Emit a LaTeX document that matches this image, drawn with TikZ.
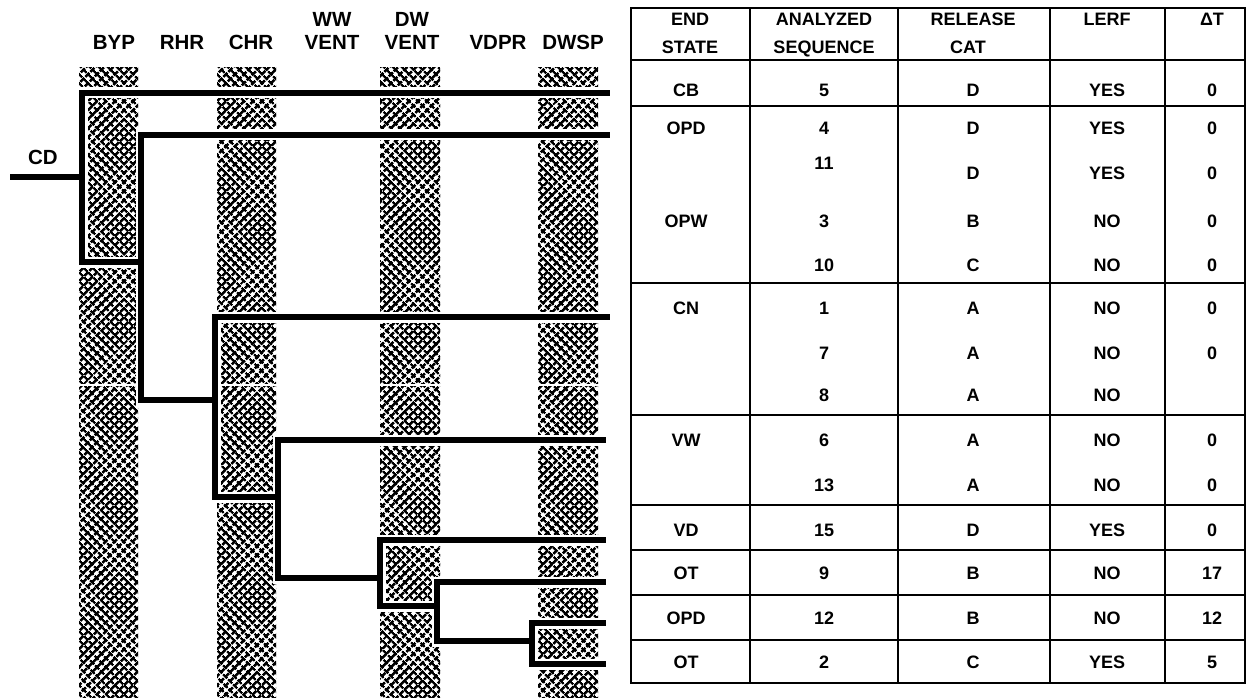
\documentclass[tikz,border=0pt]{standalone}
\usepackage{fontspec}
\setmainfont{Liberation Sans}
\usetikzlibrary{patterns.meta}
\begin{document}
\begin{tikzpicture}[x=1pt,y=-1pt,
  hdr/.style={font=\fontsize{20.5}{22}\selectfont\bfseries, inner sep=0pt, text height=14.7pt, text depth=0pt},
  cell/.style={font=\fontsize{18}{19}\selectfont\bfseries, inner sep=0pt, text height=12.9pt, text depth=0pt},
  branch/.style={line width=6pt, line join=miter, line cap=rect, black},
  halo/.style={line width=11pt, line cap=rect, white},
  tline/.style={line width=2.5pt},
  bar/.style={pattern={Lines[angle=45,distance=6.5pt,line width=2.9pt]},
              postaction={pattern={Lines[angle=-45,distance=6.5pt,line width=2.6pt]}}}
]
\useasboundingbox (0,0) rectangle (1247,698);

% ---- column headers of the tree
\node[hdr] (byp) at (114,42) {BYP};
\node[hdr] (rhr) at (182,42) {RHR};
\node[hdr] (chr) at (251,42) {CHR};
\node[hdr] (ww1) at (332,19) {WW};
\node[hdr] (ww2) at (332,42) {VENT};
\node[hdr] (dw1) at (412,19) {DW};
\node[hdr] (dw2) at (412,42) {VENT};
\node[hdr] (vdpr) at (498,42) {VDPR};
\node[hdr] (dwsp) at (573,42) {DWSP};
\node[hdr] (cd) at (43,157) {CD};

% ---- hatched bars
\path[bar] (79,68) rectangle (138,698);
\path[bar] (217,68) rectangle (276,698);
\path[bar] (380,68) rectangle (440,698);
\path[bar] (538,68) rectangle (598,698);
\draw[white, line width=2pt] (70,385) -- (605,385);

% ---- tree coordinates
\coordinate (cdL) at (13,177);
\coordinate (n0)  at (82,177);
\coordinate (n0t) at (82,93);   \coordinate (n0b) at (82,262);  \coordinate (e1) at (607,93);
\coordinate (n1m) at (141,262);
\coordinate (n1t) at (141,135); \coordinate (n1b) at (141,400); \coordinate (e2) at (607,135);
\coordinate (n2m) at (215,400);
\coordinate (n2t) at (215,317); \coordinate (n2b) at (215,497); \coordinate (e3) at (607,317);
\coordinate (n3m) at (278,497);
\coordinate (n3t) at (278,440); \coordinate (n3b) at (278,578); \coordinate (e4) at (603,440);
\coordinate (n4m) at (380,578);
\coordinate (n4t) at (380,540); \coordinate (n4b) at (380,606); \coordinate (e5) at (603,540);
\coordinate (n5m) at (437,606);
\coordinate (n5t) at (437,582); \coordinate (n5b) at (437,641); \coordinate (e6) at (603,582);
\coordinate (n6m) at (532,641);
\coordinate (n6t) at (532,623); \coordinate (n6b) at (532,664); \coordinate (e7) at (603,623);
\coordinate (e8) at (603,664);

\foreach \s in {halo,branch}{
  \draw[\s] (cdL) -- (n0);
  \draw[\s] (e1) -- (n0t) -- (n0b) -- (n1m);
  \draw[\s] (e2) -- (n1t) -- (n1b) -- (n2m);
  \draw[\s] (e3) -- (n2t) -- (n2b) -- (n3m);
  \draw[\s] (e4) -- (n3t) -- (n3b) -- (n4m);
  \draw[\s] (e5) -- (n4t) -- (n4b) -- (n5m);
  \draw[\s] (e6) -- (n5t) -- (n5b) -- (n6m);
  \draw[\s] (e7) -- (n6t) -- (n6b) -- (e8);
}

% ---- table grid
\draw[tline] (631,8) rectangle (1245,683);
\foreach \yy in {60,106,283,415,505,550,595,640}
  \draw[tline] (631,\yy) -- (1245,\yy);
\foreach \xx in {750,898,1050,1165}
  \draw[tline] (\xx,8) -- (\xx,683);

% ---- table header
\node[cell] (h1a) at (690,19) {END};
\node[cell] (h1b) at (690,47) {STATE};
\node[cell] (h2a) at (824,19) {ANALYZED};
\node[cell] (h2b) at (824,47) {SEQUENCE};
\node[cell] (h3a) at (973,19) {RELEASE};
\node[cell] (h3b) at (968,47) {CAT};
\node[cell] (h4)  at (1107,19) {LERF};
\node[cell] (h5)  at (1212,19) {ΔT};

% ---- table rows
\newcommand\trow[7]{%
  \node[cell] (#1a) at (686,#2) {#3};
  \node[cell] (#1b) at (824,#2) {#4};
  \node[cell] (#1c) at (973,#2) {#5};
  \node[cell] (#1d) at (1107,#2) {#6};
  \node[cell] (#1e) at (1212,#2) {#7};}
\trow{r1}{90}{CB}{5}{D}{YES}{0}
\trow{r2}{128}{OPD}{4}{D}{YES}{0}
\node[cell] (r3b) at (824,163) {11};
\node[cell] (r3c) at (973,173) {D};
\node[cell] (r3d) at (1107,173) {YES};
\node[cell] (r3e) at (1212,173) {0};
\trow{r4}{221}{OPW}{3}{B}{NO}{0}
\node[cell] (r5b) at (824,265) {10};
\node[cell] (r5c) at (973,265) {C};
\node[cell] (r5d) at (1107,265) {NO};
\node[cell] (r5e) at (1212,265) {0};
\trow{r6}{308}{CN}{1}{A}{NO}{0}
\node[cell] (r7b) at (824,353) {7};
\node[cell] (r7c) at (973,353) {A};
\node[cell] (r7d) at (1107,353) {NO};
\node[cell] (r7e) at (1212,353) {0};
\node[cell] (r8b) at (824,395) {8};
\node[cell] (r8c) at (973,395) {A};
\node[cell] (r8d) at (1107,395) {NO};
\trow{r9}{440}{VW}{6}{A}{NO}{0}
\node[cell] (r10b) at (824,485) {13};
\node[cell] (r10c) at (973,485) {A};
\node[cell] (r10d) at (1107,485) {NO};
\node[cell] (r10e) at (1212,485) {0};
\trow{r11}{530}{VD}{15}{D}{YES}{0}
\trow{r12}{573}{OT}{9}{B}{NO}{17}
\trow{r13}{618}{OPD}{12}{B}{NO}{12}
\trow{r14}{662}{OT}{2}{C}{YES}{5}
\end{tikzpicture}
\end{document}
